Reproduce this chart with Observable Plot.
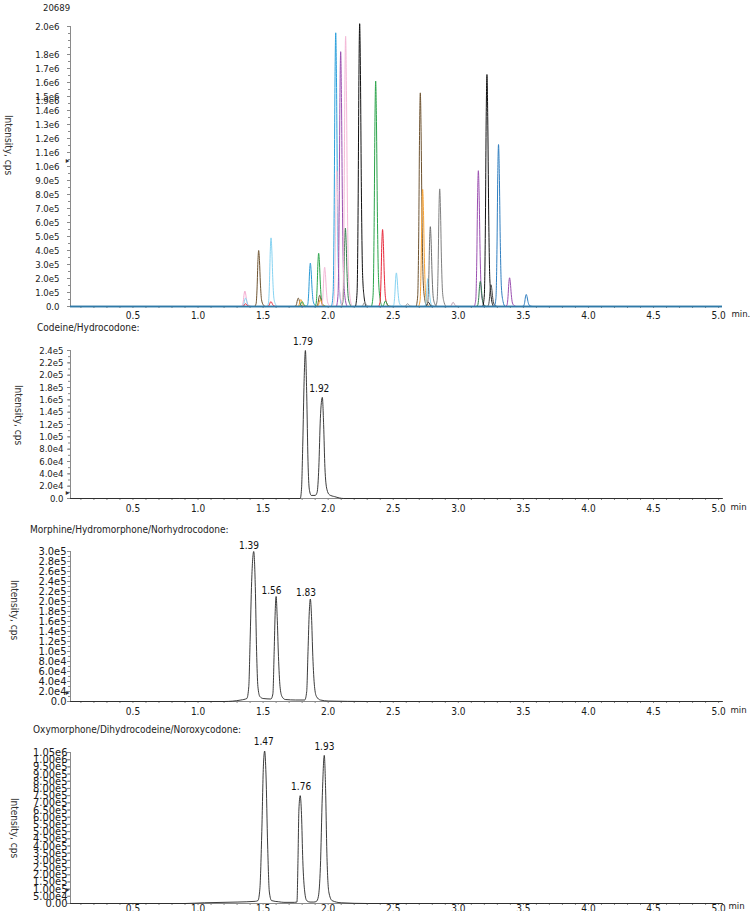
<!DOCTYPE html>
<html><head><meta charset="utf-8">
<script src="https://cdn.jsdelivr.net/npm/d3@7"></script>
<script src="https://cdn.jsdelivr.net/npm/@observablehq/plot@0.6"></script>
<style>
body{margin:0;background:#fff;}
#wrap{position:relative;width:750px;height:911px;overflow:hidden;font-family:"DejaVu Sans Condensed","DejaVu Sans",sans-serif;color:#222;}
.abs{position:absolute;white-space:nowrap;}
.title{font-size:10px;line-height:12px;}
.ylab{font-size:10px;line-height:12px;writing-mode:vertical-rl;transform:translate(-50%,-50%);color:#333;}
svg{overflow:visible;}
</style></head><body><div id="wrap"></div>
<script>
const FONT = '"DejaVu Sans Condensed","DejaVu Sans",sans-serif';

// ---------- shared x axis ----------
const xDomain = [0.02, 5.03];
const xMinorTicks = d3.range(1, 51).map(i => i / 10);
const xLabelTicks = [0.5, 1.0, 1.5, 2.0, 2.5, 3.0, 3.5, 4.0, 4.5, 5.0];

// ---------- panel 1: overlaid XICs (peak apex time, height ×1e6, colour) ----------
const p1Times = [1.36, 1.365, 1.365, 1.466, 1.561, 1.56, 1.77, 1.79, 1.80, 1.863, 1.927, 1.935, 1.94, 1.973,
  2.058, 2.066, 2.096, 2.132, 2.134, 2.242, 2.28, 2.365, 2.418, 2.44, 2.524, 2.61,
  2.708, 2.726, 2.767, 2.77, 2.785, 2.857, 2.96, 3.154, 3.169, 3.22, 3.251, 3.309, 3.394, 3.522];
const p1Heights = [0.11, 0.06, 0.02, 0.40, 0.49, 0.035, 0.06, 0.05, 0.035, 0.31, 0.38, 0.08, 0.05, 0.28,
  1.955, 0.97, 1.82, 0.56, 1.93, 2.02, 0.03, 1.61, 0.55, 0.04, 0.24, 0.02,
  1.526, 0.836, 0.20, 0.03, 0.57, 0.84, 0.03, 0.97, 0.18, 1.657, 0.155, 1.157, 0.205, 0.086];
const p1Colors = ["#f4a9cf", "#86d3f2", "#e8283a", "#6e5330", "#86d3f2", "#e8283a", "#6e5330", "#f7a234", "#2aa44a", "#2a9ad6", "#2aa44a", "#6e5330", "#f7a234", "#f4b6d6",
  "#2a9fdc", "#f6c6dc", "#9b4fb0", "#2e7d4a", "#f4b6d6", "#111111", "#999999", "#2aa44a", "#e8283a", "#2aa44a", "#86d3f2", "#999999",
  "#6e5330", "#f7a234", "#86d3f2", "#111111", "#707070", "#808080", "#c0a0b0", "#9b4fb0", "#2e7d4a", "#111111", "#444444", "#2f7ec0", "#9b4fb0", "#2f7ec0"];
const peakOffsets = [-0.032, -0.02, -0.012, -0.006, 0, 0.006, 0.013, 0.022, 0.035, 0.05];
const peakFractions = [0, 0.05, 0.35, 0.8, 1, 0.82, 0.42, 0.12, 0.03, 0];
const p1YTicks = [0, 1e5, 2e5, 3e5, 4e5, 5e5, 6e5, 7e5, 8e5, 9e5, 1e6, 1.1e6, 1.2e6, 1.3e6, 1.4e6, 1.5e6, 1.6e6, 1.7e6, 1.8e6, 2.0e6];
const p1StrayLabel = ["1.9e6"];
const p1StrayLabelAt = [1.465e6];

// ---------- panel 2: Codeine/Hydrocodone ----------
const p2Time = [0.02, 1.70, 1.785, 1.795, 1.805, 1.815, 1.825, 1.835, 1.845, 1.855, 1.87, 1.90, 1.915, 1.928, 1.94, 1.955, 1.965, 1.975, 1.99, 2.01, 2.05, 2.12, 5.03];
const p2Int = [0, 0, 0, 0.15e5, 0.9e5, 1.9e5, 2.40e5, 1.7e5, 0.6e5, 0.15e5, 0.05e5, 0.05e5, 0.1e5, 0.5e5, 1.3e5, 1.64e5, 1.2e5, 0.5e5, 0.15e5, 0.06e5, 0.03e5, 0, 0];
const p2Labels = ["1.79", "1.92"];
const p2LabelTime = [1.807, 1.932];
const p2LabelInt = [2.40e5, 1.64e5];
const p2YTicks = [0, 2e4, 4e4, 6e4, 8e4, 1e5, 1.2e5, 1.4e5, 1.6e5, 1.8e5, 2.0e5, 2.2e5, 2.4e5];

// ---------- panel 3: Morphine/Hydromorphone/Norhydrocodone ----------
const p3Time = [0.02, 1.2, 1.33, 1.375, 1.39, 1.40, 1.412, 1.428, 1.44, 1.45, 1.46, 1.475, 1.5, 1.56, 1.575, 1.585, 1.593, 1.60, 1.608, 1.618, 1.63, 1.645, 1.67, 1.75, 1.82, 1.835, 1.845, 1.855, 1.863, 1.872, 1.882, 1.895, 1.91, 1.94, 2.0, 2.3, 5.03];
const p3Int = [0, 0, 0.03e5, 0.06e5, 0.3e5, 1.2e5, 2.4e5, 3.0e5, 2.3e5, 1.0e5, 0.3e5, 0.1e5, 0.06e5, 0.05e5, 0.15e5, 1.0e5, 1.8e5, 2.1e5, 1.7e5, 0.9e5, 0.3e5, 0.1e5, 0.04e5, 0.03e5, 0.03e5, 0.2e5, 1.0e5, 1.8e5, 2.05e5, 1.7e5, 0.9e5, 0.3e5, 0.1e5, 0.03e5, 0.01e5, 0, 0];
const p3Labels = ["1.39", "1.56", "1.83"];
const p3LabelTime = [1.392, 1.564, 1.830];
const p3LabelInt = [3.0e5, 2.1e5, 2.05e5];
const p3YTicks = [0, 2e4, 4e4, 6e4, 8e4, 1e5, 1.2e5, 1.4e5, 1.6e5, 1.8e5, 2.0e5, 2.2e5, 2.4e5, 2.6e5, 2.8e5, 3.0e5];

// ---------- panel 4: Oxymorphone/Dihydrocodeine/Noroxycodone ----------
const p4Time = [0.02, 0.9, 1.05, 1.3, 1.44, 1.46, 1.475, 1.49, 1.502, 1.512, 1.522, 1.535, 1.548, 1.565, 1.62, 1.66, 1.74, 1.76, 1.768, 1.775, 1.785, 1.795, 1.805, 1.82, 1.835, 1.86, 1.89, 1.91, 1.925, 1.94, 1.955, 1.97, 1.98, 1.99, 2.005, 2.03, 2.1, 2.3, 5.03];
const p4Int = [0, 0, 0.005e6, 0.01e6, 0.015e6, 0.02e6, 0.1e6, 0.5e6, 0.95e6, 1.06e6, 0.9e6, 0.4e6, 0.08e6, 0.02e6, 0.012e6, 0.008e6, 0.008e6, 0.01e6, 0.3e6, 0.65e6, 0.75e6, 0.62e6, 0.3e6, 0.08e6, 0.02e6, 0.01e6, 0.01e6, 0.015e6, 0.05e6, 0.25e6, 0.75e6, 1.03e6, 0.8e6, 0.35e6, 0.08e6, 0.02e6, 0.005e6, 0, 0];
const p4Labels = ["1.47", "1.76", "1.93"];
const p4LabelTime = [1.505, 1.792, 1.971];
const p4LabelInt = [1.06e6, 0.75e6, 1.03e6];
const p4YTicks = d3.range(0, 22).map(i => i * 5e4);

// ---------- helpers ----------
const wrap = document.getElementById("wrap");
function addDiv(txt, cls, left, top, extra) {
  const d = document.createElement("div");
  d.className = "abs " + cls;
  d.textContent = txt;
  d.style.left = left + "px";
  d.style.top = top + "px";
  if (extra) Object.assign(d.style, extra);
  wrap.appendChild(d);
  return d;
}
const expFmt = digits => v => v === 0 ? (0).toFixed(digits) : d3.format("." + digits + "e")(v).replace("+", "");
const fmtX = d => xLabelTicks.some(t => Math.abs(t - d) < 1e-6) ? d.toFixed(1) : "";

function panel(o) {
  const marks = [
    Plot.axisY({ticks: o.yMinor, tickSize: 2, tickFormat: () => "", stroke: "#8a8a8a", label: null}),
    Plot.axisY({ticks: o.yTicks, tickSize: 3, tickPadding: o.yPad, tickFormat: o.yFmt, fontSize: o.yFont, stroke: "#8a8a8a", fill: "#1a1a1a", label: null}),
    Plot.axisX({ticks: xMinorTicks, tickSize: 2, tickPadding: o.xPad, tickFormat: fmtX, fontSize: 10, stroke: "#8a8a8a", fill: "#1a1a1a", label: null}),
    Plot.ruleX([xDomain[0]], {y1: 0, y2: o.yMax, stroke: "#8a8a8a"}),
    Plot.ruleY([0], {x1: xDomain[0], x2: xDomain[1], stroke: o.baseColor, strokeWidth: o.baseWidth}),
    ...o.marks,
    Plot.text([o.minText], {frameAnchor: "bottom-right", dx: o.minDx, dy: o.minDy, textAnchor: "start", fontSize: 9.5, fill: "#1a1a1a"}),
    Plot.text([o.markerY], {x: () => xDomain[0], y: d => d, text: () => "▸", dx: -3, fontSize: 8, fill: "#333"})
  ];
  const chart = Plot.plot({
    width: 750, height: o.height,
    marginLeft: 70, marginRight: 28, marginTop: o.mt, marginBottom: o.mb,
    style: {fontFamily: FONT, fontSize: "10px", background: "transparent", overflow: "visible", color: "#1a1a1a"},
    x: {domain: xDomain, label: null},
    y: {domain: [0, o.yMax], label: null},
    color: {type: "identity"},
    marks
  });
  chart.style.position = "absolute";
  chart.style.left = "0px";
  chart.style.top = o.top + "px";
  wrap.appendChild(chart);
}

function traceMarks(times, ints, labels, lt, li, dy) {
  const pts = times.map((t, i) => ({t, v: ints[i]}));
  const lab = labels.map((s, i) => ({s, t: lt[i], v: li[i]}));
  return [
    Plot.line(pts, {x: "t", y: "v", stroke: "#262626", strokeWidth: 0.9, curve: "monotone-x"}),
    Plot.text(lab, {x: "t", y: "v", text: "s", dy, fontSize: 10, fill: "#111"})
  ];
}

// ---------- panel 1 ----------
const p1Lines = p1Times.flatMap((t, i) => peakOffsets.map((off, j) => ({id: i, t: t + off, v: p1Heights[i] * 1e6 * peakFractions[j], c: p1Colors[i]})));
panel({
  top: 0, height: 325, mt: 26, mb: 19, yMax: 2.0e6,
  yTicks: p1YTicks, yMinor: d3.range(0, 41).map(i => i * 5e4), yFmt: expFmt(1), yFont: 9.5, yPad: 8, xPad: 3,
  minText: "min.", minDx: 9, minDy: 10,
  baseColor: "#2f7aa8", baseWidth: 1.6, markerY: 1.043e6,
  marks: [
    Plot.line(p1Lines, {x: "t", y: "v", z: "id", stroke: "c", strokeWidth: 1, curve: "monotone-x"}),
    Plot.ruleY([0], {x1: xDomain[0], x2: xDomain[1], stroke: "#2f7aa8", strokeWidth: 1.4}),
    Plot.text(p1StrayLabel, {x: () => xDomain[0], y: (d, i) => p1StrayLabelAt[i], text: d => d, dx: -11, textAnchor: "end", fontSize: 9.5, fill: "#1a1a1a"})
  ]
});
addDiv("20689", "title", 43, 2, {fontSize: "9.5px"});
addDiv("Intensity, cps", "ylab", 8, 145);

// ---------- panel 2 ----------
panel({
  top: 335, height: 185, mt: 15, mb: 22, yMax: 2.4e5,
  yTicks: p2YTicks, yMinor: d3.range(0, 25).map(i => i * 1e4), yFmt: expFmt(1), yFont: 9.5, yPad: 4, xPad: 4,
  minText: "min", minDx: 8, minDy: 11,
  baseColor: "#8a8a8a", baseWidth: 1, markerY: 1.0e4,
  marks: traceMarks(p2Time, p2Int, p2Labels, p2LabelTime, p2LabelInt, -9)
});
addDiv("Codeine/Hydrocodone:", "title", 37, 322);
addDiv("Intensity, cps", "ylab", 18, 415);

// ---------- panel 3 ----------
panel({
  top: 538, height: 183, mt: 13, mb: 20, yMax: 3.0e5,
  yTicks: p3YTicks, yMinor: d3.range(0, 31).map(i => i * 1e4), yFmt: expFmt(1), yFont: 11, yPad: 1, xPad: 4,
  minText: "min", minDx: 8, minDy: 11,
  baseColor: "#8a8a8a", baseWidth: 1, markerY: 1.9e4,
  marks: traceMarks(p3Time, p3Int, p3Labels, p3LabelTime, p3LabelInt, -6)
});
addDiv("Morphine/Hydromorphone/Norhydrocodone:", "title", 30, 524);
addDiv("Intensity, cps", "ylab", 14, 610);

// ---------- panel 4 ----------
panel({
  top: 740, height: 171, mt: 12, mb: 8, yMax: 1.05e6,
  yTicks: p4YTicks, yMinor: p4YTicks, yFmt: expFmt(2), yFont: 11, yPad: 0, xPad: -1,
  minText: "min", minDx: 6, minDy: 5,
  baseColor: "#8a8a8a", baseWidth: 1, markerY: 1.0e5,
  marks: traceMarks(p4Time, p4Int, p4Labels, p4LabelTime, p4LabelInt, -9)
});
addDiv("Oxymorphone/Dihydrocodeine/Noroxycodone:", "title", 33, 724);
addDiv("Intensity, cps", "ylab", 14, 828);
</script></body></html>
